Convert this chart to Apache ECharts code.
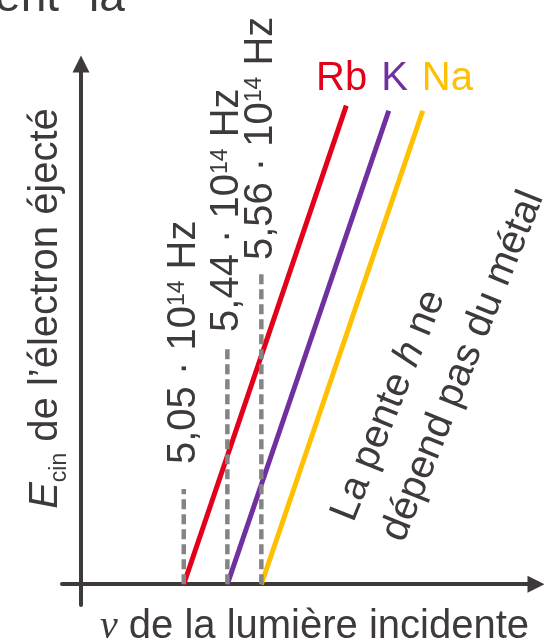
<!DOCTYPE html>
<html>
<head>
<meta charset="utf-8">
<script src="https://cdn.jsdelivr.net/npm/echarts@6/dist/echarts.min.js"></script>
<style>
  html, body { margin: 0; padding: 0; background: #fff; }
  #chart { width: 544px; height: 642px; }
</style>
</head>
<body>
<div id="chart"></div>
<script>
// Metals and their threshold frequencies (in 10^14 Hz)
const metals = ['Rb', 'K', 'Na'];
const thresholds = [5.05, 5.44, 5.56];
// Upper end of each E_cin line: frequency (10^14 Hz) and energy (arbitrary units)
const lineEndFreq = [5.86, 6.01, 6.13];
const lineEndEnergy = [92, 91, 91];
// Height reached by each dashed threshold marker (arbitrary units)
const markerHeights = [18.3, 46, 59.8];

// Styling
const INK = '#3e3a39';
const FONT = 'Liberation Sans';
const metalColors = ['#e2001a', '#7030a0', '#ffc000'];
const labelGaps = [24, 12, 12];

const fmtFreq = v => v.toFixed(2).replace('.', ',');

const chart = echarts.init(document.getElementById('chart'), null, { renderer: 'canvas' });

const series = [];
metals.forEach((m, i) => {
  series.push({
    name: m,
    type: 'line',
    data: [[thresholds[i], 0], [lineEndFreq[i], lineEndEnergy[i]]],
    showSymbol: false,
    silent: true,
    z: 3,
    lineStyle: { color: metalColors[i], width: 5 },
    itemStyle: { color: metalColors[i] }
  });
});
thresholds.forEach((t, i) => {
  series.push({
    name: 'seuil ' + metals[i],
    type: 'line',
    data: [
      [t, 0],
      { value: [t, markerHeights[i]], label: { show: true, distance: labelGaps[i] } }
    ],
    symbol: 'circle',
    symbolSize: 2,
    silent: true,
    z: 4,
    itemStyle: { color: 'rgba(0,0,0,0)' },
    lineStyle: { color: '#848484', width: 4.5, type: [10, 5] },
    label: {
      show: false,
      position: 'top',
      rotate: 90,
      align: 'left',
      verticalAlign: 'middle',
      color: INK,
      fontSize: 40,
      fontFamily: FONT,
      formatter: () => '{t|' + fmtFreq(t) + ' \u00b7 10}{sup|14}{t| Hz}',
      rich: {
        t: { fontSize: 40, fontFamily: FONT, color: INK, verticalAlign: 'top', lineHeight: 40 },
        sup: { fontSize: 23, fontFamily: FONT, color: INK, verticalAlign: 'top', lineHeight: 23, padding: [2, 0, 0, 0] }
      }
    }
  });
});

const hiddenAxisParts = {
  axisTick: { show: false },
  axisLabel: { show: false },
  splitLine: { show: false }
};

const option = {
  animation: false,
  backgroundColor: '#ffffff',
  grid: { left: 62, right: 8, top: 64, bottom: 37, containLabel: false, outerBoundsMode: 'none' },
  legend: {
    data: metals.map((m, i) => ({ name: m, icon: 'none', textStyle: { color: metalColors[i] } })),
    left: 311,
    top: 59,
    padding: 0,
    itemWidth: 0,
    itemHeight: 0,
    itemGap: 9,
    selectedMode: false,
    textStyle: { fontSize: 40, fontFamily: FONT }
  },
  xAxis: [
    // frequency scale, compressed between the Rb and K thresholds
    Object.assign({
      type: 'value',
      position: 'bottom',
      min: 4.62,
      max: 6.53,
      breaks: [{ start: 5.1, end: 5.4, gap: 0.064 }],
      breakArea: { show: false, expandOnClick: false, itemStyle: { opacity: 0, borderWidth: 0 } },
      axisLine: { show: false }
    }, hiddenAxisParts),
    // continuous axis line with arrow and title
    Object.assign({
      type: 'value',
      position: 'bottom',
      min: 0,
      max: 1,
      axisLine: {
        onZero: true,
        onZeroAxisIndex: 0,
        symbol: ['none', 'triangle'],
        symbolSize: [17, 17],
        lineStyle: { color: INK, width: 4 }
      },
      name: '{nu|\u03bd} de la lumière incidente',
      nameLocation: 'middle',
      nameGap: 2,
      nameTextStyle: {
        color: INK, fontSize: 40, fontFamily: FONT, padding: [0, 0, 0, 31],
        rich: { nu: { fontFamily: 'Liberation Serif', fontStyle: 'italic', fontSize: 40, color: INK } }
      }
    }, hiddenAxisParts)
  ],
  yAxis: Object.assign({
    type: 'value',
    min: -4,
    max: 100,
    offset: -19,
    axisLine: {
      onZero: false,
      symbol: ['none', 'triangle'],
      symbolSize: [17, 17],
      lineStyle: { color: INK, width: 4 }
    },
    name: '{e|E}{sub|cin}{t| de l\u2019électron éjecté}',
    nameLocation: 'middle',
    nameRotate: 90,
    nameGap: 15,
    nameTextStyle: {
      color: INK, fontSize: 40, fontFamily: FONT, padding: [0, 0, 0, 52],
      rich: {
        e: { fontSize: 40, fontFamily: FONT, fontStyle: 'italic', color: INK, verticalAlign: 'top', lineHeight: 40 },
        sub: { fontSize: 23, fontFamily: FONT, color: INK, verticalAlign: 'top', lineHeight: 23, padding: [22, 0, 0, 0] },
        t: { fontSize: 40, fontFamily: FONT, color: INK, verticalAlign: 'top', lineHeight: 40 }
      }
    }
  }, hiddenAxisParts),
  graphic: [
    // justified heading running off the top edge
    { type: 'text', x: 59, y: 21, silent: true,
      style: { text: 'ent', font: '46px "Liberation Sans"', fill: INK, align: 'right', verticalAlign: 'bottom' } },
    { type: 'text', x: 89, y: 21, silent: true,
      style: { text: 'la', font: '46px "Liberation Sans"', fill: INK, align: 'left', verticalAlign: 'bottom' } },
    // slope note
    { type: 'text', x: 318, y: 509, rotation: 68 * Math.PI / 180, silent: true,
      style: {
        text: '{n|La pente }{i|h}{n| ne}\n{n|dépend pas du métal}',
        font: 'normal 40px "Liberation Sans"', fill: INK, align: 'left', verticalAlign: 'top', lineHeight: 54,
        rich: {
          n: { font: 'normal 40px "Liberation Sans"', fill: INK, lineHeight: 54 },
          i: { font: 'italic 40px "Liberation Sans"', fill: INK, lineHeight: 54 }
        }
      } }
  ],
  series: series
};

chart.setOption(option);
</script>
</body>
</html>
